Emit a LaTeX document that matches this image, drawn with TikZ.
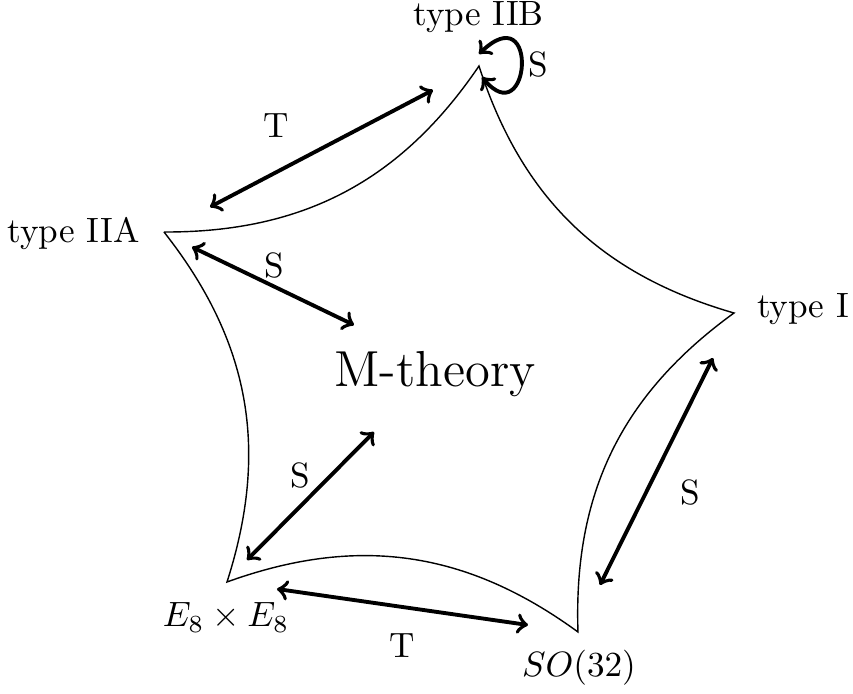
\documentclass[tikz,border=0pt]{standalone}
\begin{document}
\begin{tikzpicture}[x=0.01cm,y=-0.01cm,
  lbl/.style={inner sep=0pt,anchor=base},
  edge/.style={line width=0.4pt},
  dual/.style={line width=1.1pt,<->},
  every node/.style={inner sep=0pt}]
\useasboundingbox (0,0) rectangle (853,694);
% vertices
\coordinate (IIA) at (164,232);
\coordinate (IIB) at (479,66);
\coordinate (I) at (734,313);
\coordinate (SO) at (578,632);
\coordinate (E) at (227,582);
% star edges
\draw[edge] (IIA) to[bend right=28] (IIB)
            to[bend right=28] (I)
            to[bend right=28] (SO)
            to[bend right=28] (E)
            to[bend right=28] (IIA);
% vertex labels
\node[lbl] (lIIA) at (73.5,243) {type IIA};
\node[lbl] (lIIB) at (478.5,25) {type IIB};
\node[lbl] (lI) at (803,318) {type I};
\node[lbl] (lE) at (226,627) {$E_8\times E_8$};
\node[lbl] (lSO) at (579,677) {$SO(32)$};
\node[lbl] (M) at (435,387) {\Large M-theory};
% arrow end points
\coordinate (t1a) at (210,207);
\coordinate (t1b) at (433,90);
\coordinate (s1a) at (192,247);
\coordinate (s1b) at (354,325);
\coordinate (s2a) at (247,560);
\coordinate (s2b) at (374,432);
\coordinate (t2a) at (277,589);
\coordinate (t2b) at (528,625);
\coordinate (s3a) at (600,585);
\coordinate (s3b) at (713,358);
\coordinate (la) at (479,54);
\coordinate (lb) at (482,77);
% arrows
\draw[dual] (t1a) -- (t1b);
\draw[dual] (s1a) -- (s1b);
\draw[dual] (s2a) -- (s2b);
\draw[dual] (t2a) -- (t2b);
\draw[dual] (s3a) -- (s3b);
\draw[dual] (la) .. controls (540,-5) and (530,135) .. (lb);
% arrow labels
\node[lbl] (T1) at (276.5,137) {T};
\node[lbl] (S1) at (274,278) {S};
\node[lbl] (S2) at (300.5,488) {S};
\node[lbl] (T2) at (402.5,658) {T};
\node[lbl] (S3) at (690.5,505) {S};
\node[lbl] (S4) at (538,77) {S};
\end{tikzpicture}
\end{document}
